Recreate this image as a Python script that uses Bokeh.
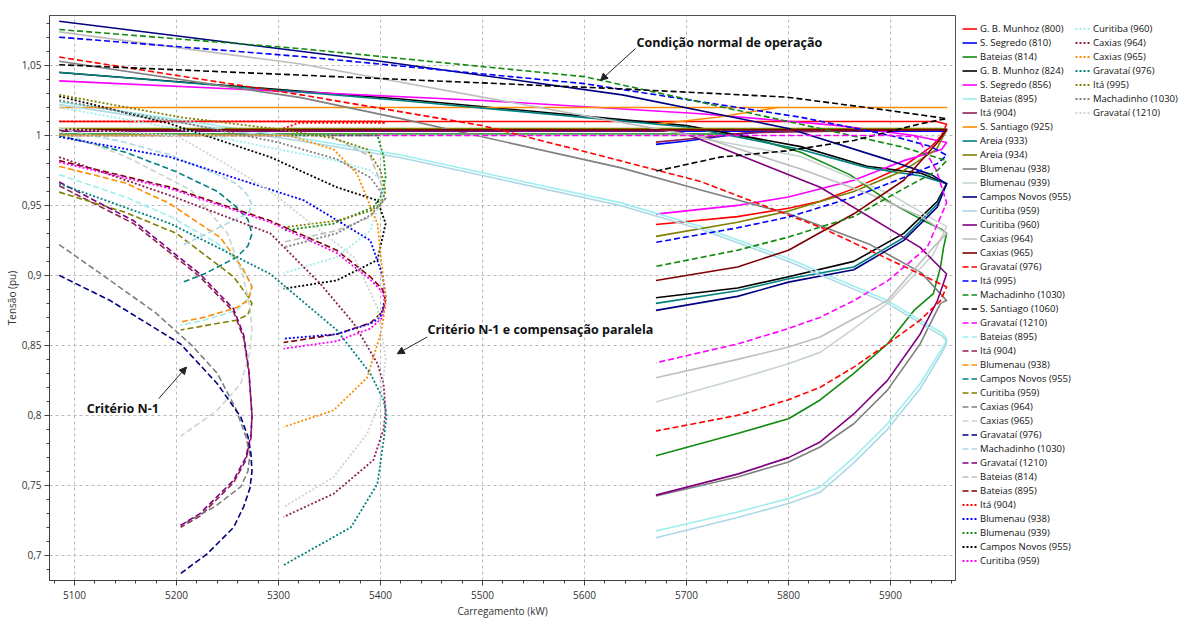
from bokeh.plotting import figure
from bokeh.models import FixedTicker, Legend, LegendItem, Label, Arrow, NormalHead, Range1d
from bokeh.embed import file_html
from bokeh.resources import INLINE

# ---------------- data ----------------
names = ["G. B. Munhoz (800)", "S. Segredo (810)", "Bateias (814)", "G. B. Munhoz (824)",
         "S. Segredo (856)", "Bateias (895)", "Itá (904)", "S. Santiago (925)", "Areia (933)",
         "Areia (934)", "Blumenau (938)", "Blumenau (939)", "Campos Novos (955)", "Curitiba (959)",
         "Curitiba (960)", "Caxias (964)", "Caxias (965)",
         "Gravataí (976)", "Itá (995)", "Machadinho (1030)", "S. Santiago (1060)", "Gravataí (1210)",
         "Bateias (895)", "Itá (904)", "Blumenau (938)", "Campos Novos (955)", "Curitiba (959)",
         "Caxias (964)", "Caxias (965)", "Gravataí (976)", "Machadinho (1030)", "Gravataí (1210)",
         "Bateias (814)", "Bateias (895)",
         "Itá (904)", "Blumenau (938)", "Blumenau (939)", "Campos Novos (955)", "Curitiba (959)",
         "Curitiba (960)", "Caxias (964)", "Caxias (965)", "Gravataí (976)", "Itá (995)",
         "Machadinho (1030)", "Gravataí (1210)"]

# normal operation
P01 = [5085, 5945, 5955, 5950, 5940, 5913, 5864, 5831, 5800, 5750, 5670]
V01 = [1.010, 1.010, 1.008, 1.000, 0.992, 0.978, 0.962, 0.953, 0.948, 0.942, 0.9364]
P02 = [5085, 5955, 5780, 5740, 5700, 5670]
V02 = [1.003, 1.003, 1.003, 1.000, 0.996, 0.9936]
P03 = [5085, 5740, 5765, 5812, 5860, 5900, 5930, 5950, 5955, 5952, 5949, 5942, 5923, 5897, 5864, 5831, 5800, 5750, 5670]
V03 = [1.001, 1.001, 0.998, 0.988, 0.972, 0.952, 0.940, 0.933, 0.930, 0.920, 0.906, 0.887, 0.875, 0.851, 0.830, 0.811, 0.7976, 0.787, 0.7712]
P04 = [5085, 5420, 5700, 5812, 5877, 5930, 5955, 5946, 5913, 5864, 5800, 5750, 5670]
V04 = [1.045, 1.026, 1.007, 0.992, 0.978, 0.973, 0.9655, 0.953, 0.930, 0.910, 0.899, 0.891, 0.884]
P05 = [5085, 5500, 5714, 5850, 5923, 5955, 5950, 5913, 5864, 5800, 5750, 5670]
V05 = [1.039, 1.025, 1.0155, 1.007, 1.000, 0.995, 0.990, 0.982, 0.968, 0.956, 0.950, 0.9438]
P06 = [5085, 5322, 5420, 5635, 5714, 5800, 5897, 5929, 5950, 5955, 5954, 5949, 5929, 5897, 5864, 5831, 5800, 5750, 5670]
V06 = [1.024, 0.998, 0.986, 0.952, 0.935, 0.912, 0.882, 0.868, 0.859, 0.855, 0.852, 0.846, 0.8226, 0.794, 0.770, 0.7488, 0.7405, 0.731, 0.7174]
P07 = [5085, 5955, 5760, 5710, 5670]
V07 = [1.0045, 1.0045, 1.002, 0.998, 0.9952]
P08 = [5085, 5955, 5790, 5730, 5670]
V08 = [1.020, 1.020, 1.020, 1.013, 1.008]
P09 = [5085, 5420, 5700, 5812, 5877, 5930, 5955, 5946, 5913, 5864, 5800, 5750, 5670]
V09 = [1.0452, 1.025, 1.006, 0.990, 0.977, 0.971, 0.9655, 0.951, 0.927, 0.906, 0.8976, 0.889, 0.880]
P10 = [5085, 5950, 5955, 5945, 5913, 5864, 5800, 5750, 5670]
V10 = [1.005, 1.005, 1.004, 0.990, 0.975, 0.960, 0.946, 0.938, 0.9279]
P11 = [5085, 5322, 5420, 5635, 5714, 5800, 5880, 5930, 5955, 5949, 5929, 5897, 5864, 5831, 5800, 5750, 5670]
V11 = [1.053, 1.027, 1.012, 0.977, 0.961, 0.944, 0.922, 0.902, 0.882, 0.880, 0.851, 0.818, 0.794, 0.7774, 0.7667, 0.756, 0.7424]
P12 = [5085, 5700, 5812, 5900, 5942, 5955, 5942, 5897, 5864, 5831, 5800, 5750, 5670]
V12 = [1.000, 1.000, 0.985, 0.958, 0.940, 0.935, 0.915, 0.880, 0.862, 0.845, 0.8369, 0.826, 0.8095]
P13 = [5085, 5400, 5637, 5800, 5900, 5940, 5955, 5946, 5913, 5864, 5800, 5750, 5670]
V13 = [1.0816, 1.053, 1.029, 1.005, 0.982, 0.972, 0.9655, 0.949, 0.925, 0.904, 0.8952, 0.885, 0.875]
P14 = [5085, 5322, 5420, 5635, 5714, 5800, 5897, 5929, 5950, 5955, 5954, 5949, 5929, 5897, 5864, 5831, 5800, 5750, 5670]
V14 = [1.022, 0.996, 0.984, 0.950, 0.933, 0.910, 0.880, 0.866, 0.857, 0.853, 0.850, 0.843, 0.819, 0.790, 0.766, 0.745, 0.737, 0.727, 0.7126]
P15 = [5085, 5690, 5700, 5831, 5929, 5955, 5946, 5929, 5897, 5864, 5831, 5800, 5750, 5670]
V15 = [1.003, 1.003, 1.001, 0.963, 0.920, 0.901, 0.882, 0.858, 0.825, 0.801, 0.781, 0.7698, 0.758, 0.743]
P16 = [5085, 5322, 5714, 5812, 5880, 5930, 5955, 5942, 5897, 5864, 5831, 5800, 5750, 5670]
V16 = [1.074, 1.051, 0.999, 0.976, 0.958, 0.942, 0.930, 0.920, 0.882, 0.869, 0.856, 0.8488, 0.840, 0.8269]
P17 = [5085, 5950, 5955, 5946, 5913, 5864, 5800, 5750, 5670]
V17 = [1.004, 1.004, 1.004, 0.995, 0.968, 0.944, 0.918, 0.906, 0.8964]
P18 = [5085, 5322, 5500, 5635, 5714, 5831, 5929, 5955, 5949, 5929, 5897, 5864, 5831, 5800, 5750, 5670]
V18 = [1.056, 1.029, 1.007, 0.982, 0.967, 0.9345, 0.901, 0.8917, 0.882, 0.868, 0.851, 0.8345, 0.820, 0.8112, 0.800, 0.7888]
P19 = [5085, 5322, 5600, 5812, 5900, 5940, 5955, 5946, 5913, 5864, 5800, 5750, 5670]
V19 = [1.0702, 1.0564, 1.037, 1.013, 1.000, 0.992, 0.9857, 0.980, 0.970, 0.956, 0.9417, 0.934, 0.9236]
P20 = [5085, 5322, 5600, 5812, 5910, 5955, 5946, 5913, 5864, 5800, 5750, 5670]
V20 = [1.0757, 1.062, 1.042, 1.008, 0.992, 0.982, 0.975, 0.962, 0.942, 0.9274, 0.918, 0.9064]
P21 = [5085, 5635, 5798, 5897, 5955, 5929, 5864, 5798, 5733, 5670]
V21 = [1.0505, 1.0333, 1.0274, 1.018, 1.012, 1.0083, 0.9964, 0.989, 0.9845, 0.9745]
P22 = [5085, 5900, 5926, 5945, 5955, 5949, 5936, 5897, 5864, 5831, 5800, 5750, 5670]
V22 = [1.000, 1.000, 0.999, 0.975, 0.952, 0.9417, 0.920, 0.896, 0.882, 0.870, 0.862, 0.851, 0.8376]

# N-1 criterion
P23 = [5085, 5150, 5194, 5240, 5259, 5270, 5274, 5272, 5259, 5227, 5204]
V23 = [0.972, 0.956, 0.942, 0.923, 0.9107, 0.898, 0.893, 0.885, 0.875, 0.868, 0.8643]
P24 = [5085, 5158, 5223, 5256, 5266, 5271, 5274, 5273, 5268, 5256, 5223, 5204]
V24 = [0.964, 0.937, 0.899, 0.874, 0.855, 0.830, 0.800, 0.784, 0.768, 0.752, 0.728, 0.720]
P25 = [5085, 5150, 5194, 5243, 5265, 5272, 5274, 5270, 5259, 5227, 5204]
V25 = [0.978, 0.966, 0.951, 0.927, 0.905, 0.895, 0.8917, 0.882, 0.877, 0.870, 0.8667]
P26 = [5085, 5150, 5200, 5240, 5257, 5270, 5274, 5270, 5259, 5227, 5204]
V26 = [1.000, 0.988, 0.974, 0.960, 0.950, 0.940, 0.9298, 0.921, 0.913, 0.901, 0.8945]
P27 = [5085, 5150, 5200, 5256, 5270, 5274, 5270, 5259, 5227, 5204]
V27 = [0.9595, 0.945, 0.930, 0.899, 0.885, 0.880, 0.872, 0.868, 0.864, 0.861]
P28 = [5085, 5130, 5180, 5215, 5240, 5258, 5268, 5272, 5270, 5263, 5237, 5204]
V28 = [0.922, 0.899, 0.873, 0.850, 0.830, 0.805, 0.785, 0.772, 0.760, 0.749, 0.7345, 0.7214]
P29 = [5085, 5150, 5214, 5250, 5265, 5272, 5274, 5272, 5263, 5240, 5204]
V29 = [1.003, 0.985, 0.961, 0.930, 0.900, 0.878, 0.862, 0.845, 0.8226, 0.8036, 0.785]
P30 = [5085, 5135, 5204, 5240, 5263, 5270, 5273, 5274, 5272, 5266, 5256, 5230, 5204]
V30 = [0.900, 0.882, 0.851, 0.8226, 0.7988, 0.785, 0.7726, 0.760, 0.748, 0.735, 0.720, 0.701, 0.687]
P31 = [5085, 5150, 5194, 5240, 5259, 5270, 5274, 5270, 5259, 5230, 5207]
V31 = [1.005, 0.995, 0.986, 0.972, 0.9655, 0.957, 0.950, 0.944, 0.9405, 0.930, 0.922]
P32 = [5085, 5158, 5223, 5256, 5266, 5271, 5274, 5273, 5268, 5256, 5223, 5204]
V32 = [0.9667, 0.939, 0.901, 0.876, 0.857, 0.832, 0.800, 0.786, 0.770, 0.7536, 0.7298, 0.7214]

# N-1 criterion with shunt compensation
P33 = [5085, 5350, 5390, 5403, 5405, 5390, 5357, 5305]
V33 = [1.000, 1.000, 0.985, 0.961, 0.955, 0.9417, 0.932, 0.9238]
P34 = [5085, 5194, 5292, 5357, 5390, 5402, 5405, 5402, 5390, 5357, 5305]
V34 = [0.982, 0.963, 0.939, 0.918, 0.899, 0.890, 0.882, 0.874, 0.866, 0.858, 0.852]
P35 = [5085, 5400, 5405, 5320, 5305]
V35 = [1.010, 1.010, 1.009, 1.009, 1.005]
P36 = [5085, 5194, 5325, 5390, 5402, 5405, 5400, 5390, 5357, 5305]
V36 = [0.999, 0.9845, 0.9536, 0.925, 0.900, 0.885, 0.870, 0.8655, 0.858, 0.8548]
P37 = [5085, 5397, 5403, 5405, 5400, 5393, 5354, 5305]
V37 = [1.000, 1.000, 0.985, 0.970, 0.956, 0.9488, 0.937, 0.932]
P38 = [5085, 5194, 5292, 5357, 5397, 5405, 5397, 5357, 5305]
V38 = [1.028, 1.0083, 0.9845, 0.963, 0.9536, 0.937, 0.911, 0.8964, 0.8905]
P39 = [5085, 5194, 5292, 5357, 5390, 5402, 5405, 5402, 5390, 5357, 5305]
V39 = [0.981, 0.962, 0.938, 0.916, 0.897, 0.888, 0.879, 0.870, 0.862, 0.853, 0.8476]
P40 = [5085, 5200, 5300, 5357, 5390, 5405, 5390, 5357, 5305]
V40 = [1.020, 1.005, 0.990, 0.982, 0.975, 0.965, 0.932, 0.913, 0.9017]
P41 = [5085, 5194, 5292, 5341, 5374, 5397, 5403, 5405, 5403, 5393, 5354, 5305]
V41 = [0.9845, 0.957, 0.930, 0.894, 0.8655, 0.837, 0.8226, 0.8036, 0.790, 0.768, 0.744, 0.7274]
P42 = [5085, 5310, 5354, 5377, 5397, 5403, 5405, 5403, 5400, 5387, 5354, 5305]
V42 = [1.000, 1.000, 0.990, 0.9726, 0.937, 0.895, 0.885, 0.870, 0.858, 0.827, 0.8036, 0.7917]
P43 = [5085, 5194, 5292, 5357, 5390, 5403, 5406, 5403, 5397, 5371, 5305]
V43 = [0.9655, 0.937, 0.901, 0.861, 0.830, 0.811, 0.799, 0.782, 0.751, 0.720, 0.693]
P44 = [5085, 5204, 5305, 5354, 5387, 5400, 5405, 5400, 5390, 5357, 5308]
V44 = [1.029, 1.013, 1.004, 0.998, 0.990, 0.975, 0.960, 0.951, 0.946, 0.939, 0.9345]
P45 = [5085, 5200, 5300, 5357, 5390, 5405, 5390, 5357, 5305]
V45 = [1.025, 1.010, 0.995, 0.983, 0.970, 0.955, 0.943, 0.930, 0.920]
P46 = [5085, 5200, 5259, 5292, 5374, 5397, 5403, 5405, 5400, 5387, 5354, 5305]
V46 = [1.005, 1.000, 0.975, 0.960, 0.913, 0.877, 0.850, 0.840, 0.811, 0.787, 0.756, 0.7345]

x_ticks = [5100, 5200, 5300, 5400, 5500, 5600, 5700, 5800, 5900]
y_ticks = [0.7, 0.75, 0.8, 0.85, 0.9, 0.95, 1.0, 1.05]
y_tick_labels = ["0,7", "0,75", "0,8", "0,85", "0,9", "0,95", "1", "1,05"]

P_ALL = [P01, P02, P03, P04, P05, P06, P07, P08, P09, P10, P11, P12, P13, P14, P15, P16, P17,
         P18, P19, P20, P21, P22, P23, P24, P25, P26, P27, P28, P29, P30, P31, P32, P33, P34,
         P35, P36, P37, P38, P39, P40, P41, P42, P43, P44, P45, P46]
V_ALL = [V01, V02, V03, V04, V05, V06, V07, V08, V09, V10, V11, V12, V13, V14, V15, V16, V17,
         V18, V19, V20, V21, V22, V23, V24, V25, V26, V27, V28, V29, V30, V31, V32, V33, V34,
         V35, V36, V37, V38, V39, V40, V41, V42, V43, V44, V45, V46]

# ---------------- styles ----------------
palette = ["#FF0000", "#0000FF", "#118A11", "#000000", "#FF00FF", "#9CEFEF", "#8B2252",
           "#FF8C00", "#008080", "#808000", "#808080", "#C9D6CF", "#000080", "#ADD8E6",
           "#800080", "#BEBEBE", "#800000"]
FONT = "Open Sans"

p = figure(frame_width=906, frame_height=565, output_backend="svg", toolbar_location=None,
           x_range=Range1d(5075.5, 5963.7), y_range=Range1d(0.682, 1.0857),
           min_border_left=49, min_border_right=0, min_border_top=15, min_border_bottom=39)
p.outline_line_color = "#505050"
p.background_fill_color = "white"

renderers = []
for i in range(len(names)):
    color = palette[i % 17]
    if i < 17:
        dash, lw = "solid", 1.6
    elif i < 34:
        dash, lw = "6 3", 1.6
    else:
        dash, lw = "2 2", 1.8
    r = p.line(P_ALL[i], V_ALL[i], line_color=color, line_width=lw, line_dash=dash,
               line_join="round")
    renderers.append(r)

# axes
p.xaxis.ticker = FixedTicker(ticks=x_ticks, minor_ticks=[5080 + 20 * k for k in range(45)])
p.yaxis.ticker = FixedTicker(ticks=y_ticks, minor_ticks=[round(0.69 + 0.01 * k, 2) for k in range(40)])
p.yaxis.major_label_overrides = {t: l for t, l in zip(y_ticks, y_tick_labels)}
p.xaxis.axis_label = "Carregamento (kW)"
p.yaxis.axis_label = "Tensão (pu)"
for ax in (p.xaxis[0], p.yaxis[0]):
    ax.axis_line_color = "#404040"
    ax.major_tick_line_color = "#404040"
    ax.minor_tick_line_color = "#404040"
    ax.major_tick_out = 5
    ax.major_tick_in = 0
    ax.minor_tick_out = 3
    ax.minor_tick_in = 0
    ax.major_label_text_font = FONT
    ax.major_label_text_font_size = "10px"
    ax.major_label_text_color = "#333333"
    ax.axis_label_text_font = FONT
    ax.axis_label_text_font_size = "10px"
    ax.axis_label_text_font_style = "normal"
    ax.axis_label_text_color = "#333333"
p.xaxis.major_label_standoff = 5
p.xaxis.axis_label_standoff = 2
p.yaxis.major_label_standoff = 3
p.yaxis.axis_label_standoff = 0
p.yaxis.major_label_orientation = "horizontal"

p.grid.grid_line_color = "#B8B8B8"
p.grid.grid_line_dash = "3 3"
p.grid.grid_line_width = 1

# annotations
p.add_layout(Label(x=5651, y=1.0666, text="Condição normal de operação", text_font=FONT,
                   text_font_size="12.5px", text_font_style="bold", text_baseline="middle",
                   text_color="#111111"))
p.add_layout(Label(x=5446, y=0.8614, text="Critério N-1 e compensação paralela", text_font=FONT,
                   text_font_size="12.5px", text_font_style="bold", text_baseline="middle",
                   text_color="#111111"))
p.add_layout(Label(x=5112, y=0.805, text="Critério N-1", text_font=FONT,
                   text_font_size="12.5px", text_font_style="bold", text_baseline="middle",
                   text_color="#111111"))
for (xs, ys, xe, ye) in [(5650, 1.0621, 5615.7, 1.0393), (5445.8, 0.856, 5416.4, 0.844),
                         (5182.6, 0.812, 5209.8, 0.8345)]:
    p.add_layout(Arrow(end=NormalHead(size=7, fill_color="#222222", line_color="#222222"),
                       x_start=xs, y_start=ys, x_end=xe, y_end=ye,
                       line_color="#222222", line_width=1))

# legend: one legend, two columns (39 rows in the first column)
items = [LegendItem(label=names[i], renderers=[renderers[i]]) for i in range(len(names))]
leg = Legend(items=items, nrows=39, location="top_left",
             glyph_width=15, glyph_height=13, label_height=13, label_width=94,
             label_standoff=3, spacing=1, padding=0, margin=7,
             border_line_color=None, background_fill_alpha=0,
             label_text_font=FONT, label_text_font_size="9.5px", label_text_color="#111111")
p.add_layout(leg, "right")

open("out.html", "w").write(file_html(p, INLINE))
